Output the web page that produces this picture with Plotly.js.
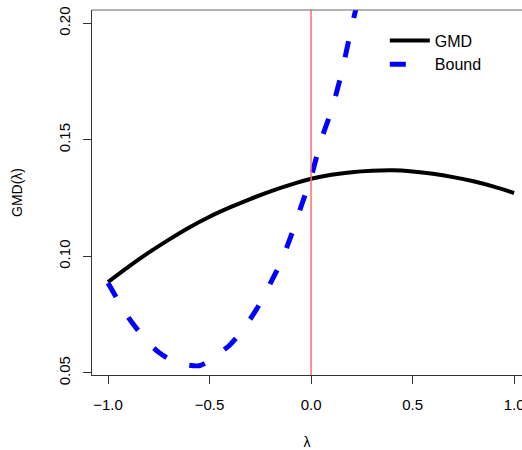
<!DOCTYPE html>
<html>
<head>
<meta charset="utf-8">
<script src="https://cdn.plot.ly/plotly-3.0.1.min.js"></script>
<style>html,body{margin:0;padding:0;background:#fff;}#chart{width:522px;height:450px;}</style>
</head>
<body>
<div id="chart"></div>
<script>
// lambda grid and GMD values
const lambdaGMD = [-1.0,-0.9,-0.8,-0.7,-0.6,-0.5,-0.4,-0.3,-0.2,-0.1,0.0,0.1,0.2,0.3,0.4,0.5,0.6,0.7,0.8,0.9,1.0];
const gmdValues = [0.0890,0.0955,0.1016,0.1072,0.1124,0.1170,0.1210,0.1246,0.1279,0.1308,0.1333,0.1350,0.1361,0.1367,0.1369,0.1364,0.1354,0.1340,0.1322,0.1299,0.1272];

// Bound curve
const lambdaBound = [-1.0,-0.95,-0.9,-0.85,-0.8,-0.75,-0.7,-0.65,-0.6,-0.55,-0.5,-0.45,-0.4,-0.35,-0.3,-0.25,-0.2,-0.15,-0.1,-0.05,0.0,0.05,0.1,0.15,0.2,0.25,0.3];
const boundValues = [0.0886,0.0810,0.0738,0.0680,0.0628,0.0588,0.0560,0.0543,0.0533,0.0531,0.0552,0.0585,0.0620,0.0670,0.0730,0.0800,0.0885,0.0972,0.1085,0.1212,0.1340,0.1500,0.1625,0.1785,0.1985,0.2165,0.2330];

const seriesNames = ['GMD','Bound'];
const refLine = [0];
const xTicks = [-1.0,-0.5,0.0,0.5,1.0];
const yTicks = [0.05,0.10,0.15,0.20];

const font = 'Liberation Sans, Arial, Helvetica, sans-serif';

const traces = [
  {x: lambdaGMD, y: gmdValues, name: seriesNames[0], type: 'scatter', mode: 'lines',
   line: {color: '#000000', width: 4, shape: 'spline', smoothing: 0.6}},
  {x: lambdaBound, y: boundValues, name: seriesNames[1], type: 'scatter', mode: 'lines',
   line: {color: '#0000ff', width: 5, dash: '16px,24px', shape: 'spline', smoothing: 0.6}}
];

const layout = {
  width: 522, height: 450,
  margin: {l: 92, r: 0, t: 10, b: 75},
  paper_bgcolor: '#ffffff', plot_bgcolor: '#ffffff',
  font: {family: font, size: 15, color: '#000'},
  showlegend: true,
  legend: {x: 0.681, y: 0.963, xanchor: 'left', yanchor: 'top', bgcolor: 'rgba(0,0,0,0)',
           font: {family: font, size: 16, color: '#000'}, itemwidth: 40, tracegroupgap: 0},
  xaxis: {range: [-1.079, 1.039], tickvals: xTicks, tickformat: '.1f',
          showgrid: false, zeroline: false, showline: true, linecolor: '#333', linewidth: 1,
          ticks: 'outside', ticklen: 8, tickcolor: '#333', ticklabeloverflow: 'allow',
          ticklabelstandoff: 8,
          tickfont: {family: font, size: 15},
          title: {text: 'λ', font: {family: font, size: 14}, standoff: 29}},
  yaxis: {range: [0.0491, 0.2057], tickvals: yTicks, tickformat: '.2f', tickangle: -90,
          showgrid: false, zeroline: false, showline: true, linecolor: '#333', linewidth: 1,
          ticks: 'outside', ticklen: 8, tickcolor: '#333', ticklabelstandoff: 7,
          tickfont: {family: font, size: 15},
          title: {text: 'GMD(λ)', font: {family: font, size: 14}, standoff: 30}},
  shapes: [
    {type: 'line', xref: 'x', yref: 'paper', x0: refLine[0], x1: refLine[0], y0: 0, y1: 1,
     line: {color: '#ff6f6f', width: 1.5}},
    {type: 'line', xref: 'paper', yref: 'paper', x0: 0, x1: 1, y0: 1, y1: 1,
     line: {color: '#666', width: 1}}
  ]
};

Plotly.newPlot('chart', traces, layout, {displayModeBar: false, staticPlot: true});
</script>
</body>
</html>
